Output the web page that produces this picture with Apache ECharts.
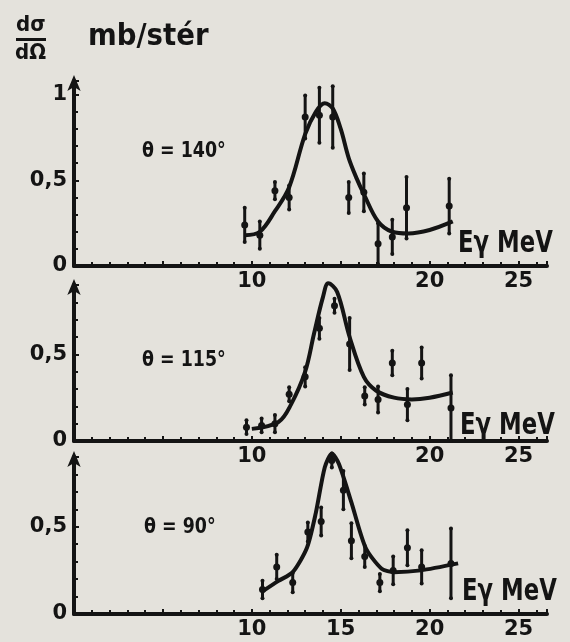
<!DOCTYPE html>
<html>
<head>
<meta charset="utf-8">
<script src="https://cdn.jsdelivr.net/npm/echarts@6/dist/echarts.min.js"></script>
<style>
  html, body { margin: 0; padding: 0; background: #e4e2dc; }
  #main { width: 570px; height: 642px; }
</style>
</head>
<body>
<div id="main"></div>
<script>
// theta = 140 deg
var e140 = [9.6, 10.45, 11.3, 12.1, 13.0, 13.8, 14.55, 15.45, 16.3, 17.1, 17.9, 18.7, 21.1];
var y140 = [0.24, 0.18, 0.44, 0.40, 0.87, 0.88, 0.87, 0.40, 0.43, 0.13, 0.17, 0.34, 0.35];
var err140 = [0.10, 0.08, 0.05, 0.07, 0.125, 0.16, 0.18, 0.09, 0.11, 0.12, 0.10, 0.18, 0.16];
var fit140 = [[9.6, 0.18], [10.45, 0.2], [11.3, 0.32], [12.1, 0.46], [13, 0.77], [13.6, 0.9], [14.1, 0.95],
  [14.55, 0.92], [15.0, 0.8], [15.45, 0.63], [15.9, 0.51], [16.3, 0.42], [17.1, 0.26], [17.9, 0.2],
  [18.8, 0.19], [20, 0.21], [21.3, 0.26]];

// theta = 115 deg
var e115 = [9.7, 10.55, 11.3, 12.1, 13.0, 13.8, 14.65, 15.5, 16.35, 17.1, 17.9, 18.75, 19.55, 21.2];
var y115 = [0.08, 0.09, 0.10, 0.27, 0.37, 0.65, 0.78, 0.56, 0.26, 0.24, 0.45, 0.21, 0.45, 0.19];
var err115 = [0.04, 0.04, 0.05, 0.04, 0.055, 0.06, 0.04, 0.15, 0.05, 0.075, 0.07, 0.09, 0.09, 0.19];
var fit115 = [[10, 0.07], [11.5, 0.11], [12.2, 0.21], [13, 0.4], [13.5, 0.62], [14, 0.83], [14.3, 0.91],
  [14.8, 0.86], [15.5, 0.6], [16.3, 0.37], [17, 0.29], [18, 0.25], [19, 0.24], [20, 0.25], [21.3, 0.28]];

// theta = 90 deg
var e90 = [10.6, 11.4, 12.3, 13.15, 13.9, 14.5, 15.15, 15.6, 16.35, 17.2, 17.95, 18.75, 19.55, 21.2];
var y90 = [0.14, 0.27, 0.18, 0.47, 0.53, 0.88, 0.71, 0.42, 0.33, 0.18, 0.25, 0.38, 0.27, 0.29];
var err90 = [0.05, 0.07, 0.055, 0.055, 0.08, 0.04, 0.11, 0.10, 0.06, 0.05, 0.08, 0.10, 0.095, 0.20];
var fit90 = [[10.6, 0.13], [11.5, 0.19], [12.3, 0.24], [13.1, 0.38], [13.6, 0.58], [14.1, 0.84], [14.5, 0.92],
  [14.9, 0.86], [15.6, 0.64], [16.4, 0.38], [17.3, 0.26], [18, 0.24], [19.5, 0.25], [21.6, 0.29]];

var xTicks12 = [10, 20, 25];
var xTicks3 = [10, 15, 20, 25];
var yTicks1 = [0, 0.5, 1];
var yTicks23 = [0, 0.5];

var ink = '#141414';
var font = '"DejaVu Sans", sans-serif';

function yLabel(ticks) {
    return function (v) {
        if (ticks.indexOf(v) < 0) return '';
        return v === 0.5 ? '0,5' : String(v);
    };
}
function xLabel(ticks) {
    return function (v) { return ticks.indexOf(v) < 0 ? '' : String(v); };
}

function makeX(idx, ticks) {
    return {
        type: 'value', gridIndex: idx, min: 0, max: 26.6, interval: 5,
        axisLine: { lineStyle: { color: ink, width: 4 } },
        axisTick: { show: true, inside: true, length: 5, lineStyle: { color: ink, width: 2 } },
        minorTick: { show: true, splitNumber: 5, length: 4, lineStyle: { color: ink, width: 2 } },
        splitLine: { show: false },
        axisLabel: {
            formatter: xLabel(ticks), color: ink, fontFamily: font, fontWeight: 'bold',
            fontSize: 21, margin: 5, showMaxLabel: false
        }
    };
}
function makeY(idx, max, ticks) {
    return {
        type: 'value', gridIndex: idx, min: 0, max: max, interval: 0.5,
        axisLine: { show: true, symbol: ['none', 'arrow'], symbolSize: [10, 16], symbolOffset: [0, 6],
            lineStyle: { color: ink, width: 4 } },
        axisTick: { show: true, inside: true, length: 5, lineStyle: { color: ink, width: 2 } },
        minorTick: { show: true, splitNumber: 5, length: 4, lineStyle: { color: ink, width: 2 } },
        splitLine: { show: false },
        axisLabel: {
            formatter: yLabel(ticks), color: ink, fontFamily: font, fontWeight: 'bold',
            fontSize: 21, margin: 7, showMaxLabel: true
        }
    };
}

function errorBars(idx, es, ys, errs) {
    var data = es.map(function (e, i) { return [e, ys[i], errs[i]]; });
    return {
        type: 'custom', xAxisIndex: idx, yAxisIndex: idx, data: data, clip: false,
        renderItem: function (params, api) {
            var x = api.value(0), y = api.value(1), d = api.value(2);
            var top = api.coord([x, y + d]);
            var bot = api.coord([x, Math.max(0, y - d)]);
            var mid = api.coord([x, y]);
            var st = { fill: ink };
            return {
                type: 'group',
                children: [
                    { type: 'line', shape: { x1: top[0], y1: top[1], x2: bot[0], y2: bot[1] },
                      style: { stroke: ink, lineWidth: 3 } },
                    { type: 'circle', shape: { cx: mid[0], cy: mid[1], r: 3.5 }, style: st },
                    { type: 'circle', shape: { cx: top[0], cy: top[1], r: 2 }, style: st },
                    { type: 'circle', shape: { cx: bot[0], cy: bot[1], r: 2 }, style: st }
                ]
            };
        }
    };
}

function fitLine(idx, pts, smooth) {
    return {
        type: 'line', xAxisIndex: idx, yAxisIndex: idx, data: pts, smooth: smooth,
        showSymbol: false, clip: false, lineStyle: { color: ink, width: 4 }
    };
}

// narrow lettering: squeeze text horizontally
function txt(x, y, text, size, sx) {
    return {
        type: 'text', x: x, y: y, scaleX: sx || 1,
        style: { text: text, fill: ink, font: 'bold ' + size + 'px ' + font, textBaseline: 'top' }
    };
}

var myChart = echarts.init(document.getElementById('main'));
var option = {
    backgroundColor: '#e4e2dc',
    animation: false,
    grid: [
        { left: 74, top: 81, width: 473, height: 185 },
        { left: 74, top: 285, width: 473, height: 156 },
        { left: 74, top: 457, width: 473, height: 157 }
    ],
    xAxis: [makeX(0, xTicks12), makeX(1, xTicks12), makeX(2, xTicks3)],
    yAxis: [makeY(0, 1.08, yTicks1), makeY(1, 0.9, yTicks23), makeY(2, 0.9, yTicks23)],
    series: [
        fitLine(0, fit140, 0.35), errorBars(0, e140, y140, err140),
        fitLine(1, fit115, 0.35), errorBars(1, e115, y115, err115),
        fitLine(2, fit90, 0.25), errorBars(2, e90, y90, err90)
    ],
    graphic: [
        txt(16, 14, 'dσ', 22, 0.9),
        { type: 'rect', shape: { x: 16, y: 38, width: 30, height: 3 }, style: { fill: ink } },
        txt(15, 42, 'dΩ', 22, 0.9),
        txt(88, 22, 'mb/stér', 30, 0.92),
        txt(142, 141, 'θ = 140°', 21, 0.83),
        txt(142, 350, 'θ = 115°', 21, 0.83),
        txt(144, 517, 'θ = 90°', 21, 0.83),
        txt(458, 229, 'Eγ MeV', 30, 0.76),
        txt(460, 411, 'Eγ MeV', 30, 0.76),
        txt(462, 577, 'Eγ MeV', 30, 0.76)
    ]
};
myChart.setOption(option);
</script>
</body>
</html>
